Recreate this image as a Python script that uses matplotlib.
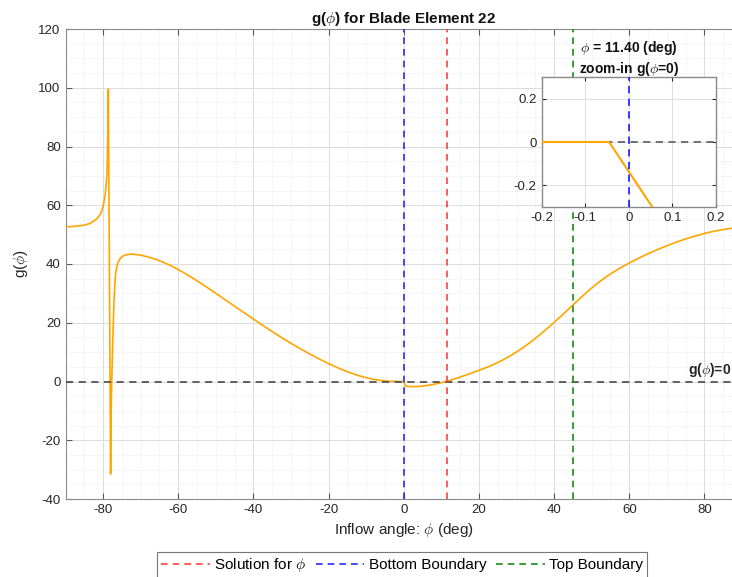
import numpy as np
import matplotlib
matplotlib.use('Agg')
import matplotlib.pyplot as plt
from matplotlib.ticker import MultipleLocator

plt.rcParams['font.family'] = ['Liberation Sans', 'DejaVu Sans']
plt.rcParams['mathtext.fontset'] = 'cm'
plt.rcParams['axes.unicode_minus'] = False

# g(phi)
phi = [-90, -87, -85, -83.5, -82.4, -81.5, -80.7, -80.2, -79.8, -79.5, -79.3, -79.0,
       -78.85, -78.75, -78.68, -78.6, -78.0, -77.85, -77.7, -77.5, -77.3, -77.1,
       -76.9, -76.7, -76.4, -76.0, -75.4, -74.6, -73.6, -72.6, -72, -70, -68,
       -66, -64, -62, -60, -58, -56, -54, -52, -50, -48, -46, -44, -42, -40, -38,
       -36, -34, -32, -30, -28, -26, -24, -22, -20, -18, -16, -14, -12, -10, -8,
       -6, -4, -2, -1, -0.2, -0.045, 0.45, 1, 2, 3, 4, 6, 8, 10, 11.4, 13, 15, 17,
       20, 22, 24, 26, 28, 30, 32, 34, 36, 38, 40, 42, 44, 46, 48, 50, 52, 54, 56,
       58, 60, 62, 64, 66, 68, 70, 72, 74, 76, 78, 80, 82, 84, 86, 88, 90]
g = [52.6, 52.9, 53.2, 53.8, 54.7, 55.6, 56.9, 58.6, 60.9, 63, 65.4, 70,
     76, 83, 90, 99.5, -31.5, -10, 0, 10, 19, 27,
     32, 36, 38.8, 40.6, 42.0, 42.8, 43.2, 43.35, 43.35, 43.0, 42.4,
     41.6, 40.6, 39.45, 38.1, 36.65, 35.1, 33.46, 31.76, 30.02, 28.26, 26.5, 24.74, 23.0, 21.26, 19.52,
     17.82, 16.16, 14.56, 13.0, 11.5, 10.06, 8.68, 7.36, 6.1, 4.92, 3.84, 2.86, 2.0, 1.28, 0.72,
     0.32, 0.1, 0.02, 0.0, 0.0, 0.0, -1.5, -1.65, -1.75, -1.75, -1.68, -1.4, -0.95, -0.4, 0, 0.7, 1.5, 2.4,
     3.8, 4.76, 5.84, 7.08, 8.48, 10.04, 11.76, 13.64, 15.68, 17.84, 20.1, 22.44, 24.84, 27.24, 29.58,
     31.82, 33.88, 35.74, 37.42, 38.94, 40.34, 41.66, 42.9, 44.06, 45.15, 46.2, 47.2, 48.1, 48.95, 49.7,
     50.4, 51.0, 51.5, 51.95, 52.3, 52.6]

phi_solution = 11.40
phi_bottom = 0
phi_top = 45

W, H = 732, 577
fig = plt.figure(figsize=(W / 100, H / 100), dpi=100)

ax = fig.add_axes([65.5 / W, 1 - 499 / H, (742 - 65.5) / W, (499 - 29) / H])
ax.plot(phi, g, color='#FFA500', lw=1.2, zorder=3)
ax.axhline(0, color='#555555', ls='--', lw=1.3, dashes=(4, 3), zorder=4)
l1 = ax.axvline(phi_solution, color='#ff4040', ls='--', lw=1.2, dashes=(4, 3), zorder=4,
                label=r'Solution for $\phi$')
l2 = ax.axvline(phi_bottom, color='#2a2aff', ls='--', lw=1.2, dashes=(4, 3), zorder=4,
                label='Bottom Boundary')
l3 = ax.axvline(phi_top, color='#1a8a1a', ls='--', lw=1.2, dashes=(4, 3), zorder=4,
                label='Top Boundary')
ax.text(87.0, 0.8, r'g($\phi$)=0', ha='right', va='bottom', fontsize=10,
        fontweight='bold', color='#262626', zorder=5)

ax.set_xlim(-90, 90)
ax.set_ylim(-40, 120)
ax.xaxis.set_major_locator(MultipleLocator(20))
ax.yaxis.set_major_locator(MultipleLocator(20))
ax.xaxis.set_minor_locator(MultipleLocator(5))
ax.yaxis.set_minor_locator(MultipleLocator(5))
ax.grid(which='major', color='#dcdcdc', lw=0.7)
ax.grid(which='minor', color='#e4e4e4', lw=0.6, ls=':')
ax.tick_params(which='both', direction='in', top=True, right=True,
               labelsize=9.5, colors='#262626')
ax.tick_params(which='major', length=4, color='#555555')
ax.tick_params(which='minor', length=0)
for s in ax.spines.values():
    s.set_color('#8a8a8a')
ax.set_xlabel(r'Inflow angle: $\phi$ (deg)', fontsize=11, color='#262626', labelpad=4)
ax.set_ylabel(r'g($\phi$)', fontsize=11, color='#262626', labelpad=6)
ax.set_title(r'g($\phi$) for Blade Element 22', fontsize=11, fontweight='bold',
             color='#111111', pad=4)

# zoom-in around phi = 0
ins = fig.add_axes([541.5 / W, 1 - 207 / H, (716 - 541.5) / W, (207 - 77) / H])
ins.set_facecolor('white')
ins.plot(phi, g, color='#FFA500', lw=1.5, zorder=3)
ins.axhline(0, color='#666666', ls='--', lw=1.3, dashes=(4, 3), zorder=2)
ins.axvline(phi_bottom, color='#2a2aff', ls='--', lw=1.3, dashes=(4, 3), zorder=4)
ins.set_xlim(-0.2, 0.2)
ins.set_ylim(-0.3, 0.3)
ins.set_xticks([-0.2, -0.1, 0, 0.1, 0.2])
ins.set_xticklabels(['-0.2', '-0.1', '0', '0.1', '0.2'])
ins.set_yticks([-0.2, 0, 0.2])
ins.set_yticklabels(['-0.2', '0', '0.2'])
ins.grid(color='#e0e0e0', lw=0.7)
ins.tick_params(direction='in', top=True, right=True, labelsize=9.5,
                colors='#262626', length=3)
for s in ins.spines.values():
    s.set_color('#8a8a8a')
    s.set_linewidth(1.0)
ins.set_title(r'$\phi$ = %.2f (deg)' % phi_solution + '\n' + r'zoom-in g($\phi$=0)',
              fontsize=10, fontweight='bold', color='#111111', pad=3, linespacing=1.25)

leg = fig.legend(handles=[l1, l2, l3], loc='center', ncol=3,
                 bbox_to_anchor=(402 / W, 1 - 565 / H), fontsize=11,
                 frameon=True, fancybox=False, handlelength=3.2, handletextpad=0.3,
                 columnspacing=0.6, borderpad=0.25, borderaxespad=0)
leg.get_frame().set_edgecolor('#555555')
leg.get_frame().set_linewidth(0.8)

fig.savefig('out.png', dpi=100)
